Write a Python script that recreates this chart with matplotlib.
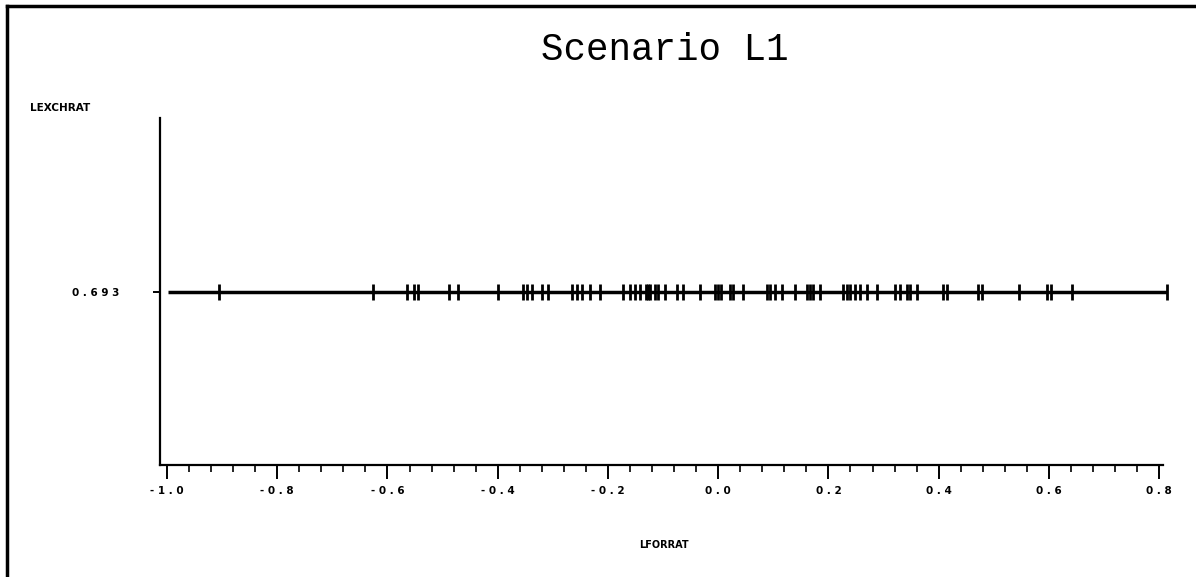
import numpy as np
import matplotlib.pyplot as plt
from matplotlib.lines import Line2D

# LFORRAT values (all sit at LEXCHRAT = 0.693)
lforrat = [-0.906, -0.626, -0.564, -0.552, -0.544, -0.488, -0.472, -0.399,
           -0.354, -0.347, -0.338, -0.319, -0.309, -0.265, -0.256, -0.247,
           -0.232, -0.214, -0.172, -0.160, -0.151, -0.142, -0.131, -0.127,
           -0.123, -0.114, -0.109, -0.096, -0.074, -0.064, -0.033, -0.005,
           0.000, 0.005, 0.022, 0.027, 0.045, 0.089, 0.094, 0.103, 0.116,
           0.140, 0.162, 0.167, 0.172, 0.185, 0.227, 0.234, 0.240, 0.249,
           0.258, 0.270, 0.289, 0.321, 0.330, 0.343, 0.348, 0.361, 0.407,
           0.416, 0.472, 0.479, 0.546, 0.597, 0.603, 0.642, 0.815]
lexchrat = 0.693
line_start = -0.998

xticks = [-1.0, -0.8, -0.6, -0.4, -0.2, 0.0, 0.2, 0.4, 0.6, 0.8]
xtick_labels = ["-1.0", "-0.8", "-0.6", "-0.4", "-0.2", "0.0", "0.2", "0.4", "0.6", "0.8"]
yticks = [0.693]
ytick_labels = ["0.693"]

def spaced(s):
    return " ".join(s)

fig = plt.figure(figsize=(11.96, 5.77), dpi=100)
ax = fig.add_axes([0.1338, 0.194, 0.8386, 0.6015])

x = np.array(lforrat)
y = np.full(len(x), lexchrat)
ax.plot([line_start, x.max()], [lexchrat, lexchrat], color="black", lw=2.5,
        clip_on=False, solid_capstyle="butt")
ax.plot(x, y, "|", color="black", markersize=11, mew=2.0, clip_on=False)

ax.set_xlim(-1.0127, 0.807)
ax.set_ylim(0.593, 0.793)

for s in ["top", "right"]:
    ax.spines[s].set_visible(False)
ax.spines["left"].set_linewidth(1.6)
ax.spines["bottom"].set_linewidth(1.6)

ax.set_xticks(xticks)
ax.set_xticklabels([spaced(t) for t in xtick_labels], fontsize=7.5,
                   fontweight="bold", family="DejaVu Sans")
ax.set_xticks(np.arange(-1.0, 0.801, 0.04), minor=True)
ax.tick_params(axis="x", which="major", direction="out", length=10, width=1.4, pad=5)
ax.tick_params(axis="x", which="minor", direction="out", length=5, width=1.2)
ax.set_yticks(yticks)
ax.set_yticklabels([spaced(t) for t in ytick_labels], fontsize=7.5,
                   fontweight="bold", family="DejaVu Sans")
ax.tick_params(axis="y", direction="out", length=5, width=1.4, pad=24)

fig.text(0.556, 0.913, "Scenario L1", family="Liberation Mono", fontsize=27,
         ha="center", va="center")
fig.text(0.025, 0.813, "LEXCHRAT", fontsize=7.5, fontweight="bold", ha="left", va="center")
fig.text(0.555, 0.055, "LFORRAT", fontsize=7, fontweight="bold", ha="center", va="center")

# page frame (top and left edges)
fig.add_artist(Line2D([0.006, 1.0], [0.99, 0.99], color="black", lw=2.5))
fig.add_artist(Line2D([0.006, 0.006], [0.0, 0.99], color="black", lw=2.5))

plt.savefig("out.png", dpi=100)
